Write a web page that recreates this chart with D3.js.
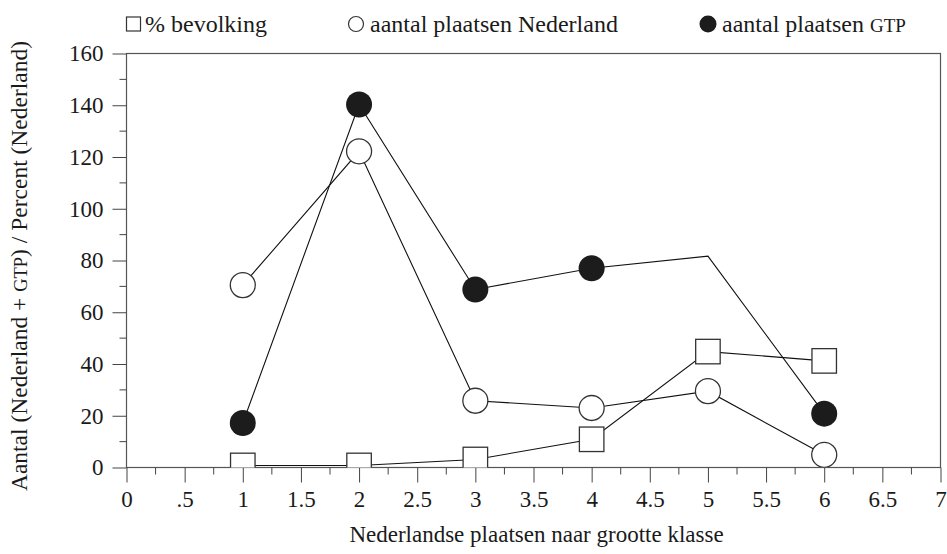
<!DOCTYPE html>
<html>
<head>
<meta charset="utf-8">
<script src="https://cdn.jsdelivr.net/npm/d3@7/dist/d3.min.js"></script>
<style>
  body { margin: 0; background: #fff; }
</style>
</head>
<body>
<div id="chart"></div>
<script>
// grootte klasse (x) en de drie reeksen
const klassen = [1, 2, 3, 4, 5, 6]
const bevolking = [0.8, 0.8, 3.1, 10.9, 44.8, 41.2]
const plaatsenNL = [70.5, 122.2, 25.8, 23, 29.5, 4.9]
const plaatsenGTP = [17.2, 140.3, 68.8, 77, 81.7, 20.8]
const gtpMarker = [true, true, true, true, false, true]

const xTickValues = [0, 0.5, 1, 1.5, 2, 2.5, 3, 3.5, 4, 4.5, 5, 5.5, 6, 6.5, 7]
const xTickLabels = ['0', '.5', '1', '1.5', '2', '2.5', '3', '3.5', '4', '4.5', '5', '5.5', '6', '6.5', '7']
const yTickValues = [0, 20, 40, 60, 80, 100, 120, 140, 160]

const FONT = 'Liberation Serif'
const width = 947, height = 554
const margin = { top: 53.5, right: 6.5, bottom: 86.5, left: 126.5 }
const w = width - margin.left - margin.right
const h = height - margin.top - margin.bottom

const svg = d3.select('#chart').append('svg')
    .attr('width', width)
    .attr('height', height)
    .attr('font-family', FONT)

const x = d3.scaleLinear().domain([0, 7]).range([0, w])
const y = d3.scaleLinear().domain([0, 160]).range([h, 0])

const g = svg.append('g')
    .attr('transform', 'translate(' + margin.left + ',' + margin.top + ')')

svg.append('defs').append('clipPath').attr('id', 'plot-clip')
    .append('rect').attr('width', w).attr('height', h)

// frame
g.append('rect')
    .attr('width', w).attr('height', h)
    .attr('fill', 'none').attr('stroke', '#555').attr('stroke-width', 1.2)

// minor ticks
const xMinor = d3.range(0, 28).map(i => i * 0.25).filter(v => v % 0.5 !== 0)
g.append('g').selectAll('line').data(xMinor).enter().append('line')
    .attr('x1', d => x(d)).attr('x2', d => x(d))
    .attr('y1', h).attr('y2', h + 7)
    .attr('stroke', '#444')
const yMinor = d3.range(10, 160, 20)
g.append('g').selectAll('line').data(yMinor).enter().append('line')
    .attr('x1', -7).attr('x2', 0)
    .attr('y1', d => y(d)).attr('y2', d => y(d))
    .attr('stroke', '#444')

const xAxis = d3.axisBottom(x)
    .tickValues(xTickValues)
    .tickSize(15)
    .tickPadding(8)
    .tickFormat((d, i) => xTickLabels[i])
const yAxis = d3.axisLeft(y)
    .tickValues(yTickValues)
    .tickSize(14)
    .tickPadding(9)

g.append('g')
    .attr('transform', 'translate(0,' + h + ')')
    .call(xAxis)
    .attr('font-family', FONT).attr('font-size', 23)
    .call(s => s.select('.domain').remove())
    .call(s => s.selectAll('line').attr('stroke', '#444'))
    .call(s => s.selectAll('text').attr('fill', '#1a1a1a'))
g.append('g')
    .call(yAxis)
    .attr('font-family', FONT).attr('font-size', 23)
    .call(s => s.select('.domain').remove())
    .call(s => s.selectAll('line').attr('stroke', '#444'))
    .call(s => s.selectAll('text').attr('fill', '#1a1a1a'))

// lines
const line = d3.line()
    .x((d, i) => x(klassen[i]))
    .y(d => y(d))

const plot = g.append('g').attr('clip-path', 'url(#plot-clip)')

;[bevolking, plaatsenNL, plaatsenGTP].forEach(values => {
  plot.append('path')
      .datum(values)
      .attr('d', line)
      .attr('fill', 'none')
      .attr('stroke', '#111')
      .attr('stroke-width', 1.1)
})

// markers
plot.selectAll('rect.sq').data(bevolking).enter().append('rect')
    .attr('class', 'sq')
    .attr('x', (d, i) => x(klassen[i]) - 12.25)
    .attr('y', d => y(d) - 12.25)
    .attr('width', 24.5).attr('height', 24.5)
    .attr('fill', '#fff').attr('stroke', '#333').attr('stroke-width', 1.3)

plot.selectAll('circle.nl').data(plaatsenNL).enter().append('circle')
    .attr('class', 'nl')
    .attr('cx', (d, i) => x(klassen[i]))
    .attr('cy', d => y(d))
    .attr('r', 12.5)
    .attr('fill', '#fff').attr('stroke', '#333').attr('stroke-width', 1.3)

plot.selectAll('circle.gtp')
    .data(plaatsenGTP.map((v, i) => ({ v, i })).filter(d => gtpMarker[d.i]))
    .enter().append('circle')
    .attr('class', 'gtp')
    .attr('cx', d => x(klassen[d.i]))
    .attr('cy', d => y(d.v))
    .attr('r', 13)
    .attr('fill', '#1c1c1c')

// axis titles
svg.append('text')
    .attr('x', 536.5)
    .attr('y', 542)
    .attr('text-anchor', 'middle')
    .attr('font-size', 23)
    .attr('fill', '#1a1a1a')
    .text('Nederlandse plaatsen naar grootte klasse')

const yTitle = svg.append('text')
    .attr('transform', 'translate(27,266) rotate(-90)')
    .attr('text-anchor', 'middle')
    .attr('font-size', 23.5)
    .attr('fill', '#1a1a1a')
yTitle.append('tspan').text('Aantal (Nederland + ')
yTitle.append('tspan').attr('font-size', 18.5).text('GTP')
yTitle.append('tspan').text(') / Percent (Nederland)')

// legend
const legend = svg.append('g').attr('transform', 'translate(0,24)')
legend.append('rect')
    .attr('x', 126.5).attr('y', -7).attr('width', 14).attr('height', 14)
    .attr('fill', '#fff').attr('stroke', '#333').attr('stroke-width', 1.2)
legend.append('text').attr('x', 145).attr('y', 8).attr('font-size', 24)
    .attr('fill', '#1a1a1a').text('% bevolking')

legend.append('circle')
    .attr('cx', 356).attr('cy', 0).attr('r', 7.5)
    .attr('fill', '#fff').attr('stroke', '#333').attr('stroke-width', 1.2)
legend.append('text').attr('x', 370).attr('y', 8).attr('font-size', 24)
    .attr('fill', '#1a1a1a').text('aantal plaatsen Nederland')

legend.append('circle')
    .attr('cx', 708).attr('cy', 0).attr('r', 8.5)
    .attr('fill', '#1c1c1c')
const gtpLabel = legend.append('text').attr('x', 722).attr('y', 8).attr('font-size', 24)
    .attr('fill', '#1a1a1a')
gtpLabel.append('tspan').text('aantal plaatsen ')
gtpLabel.append('tspan').attr('font-size', 19).text('GTP')
</script>
</body>
</html>
